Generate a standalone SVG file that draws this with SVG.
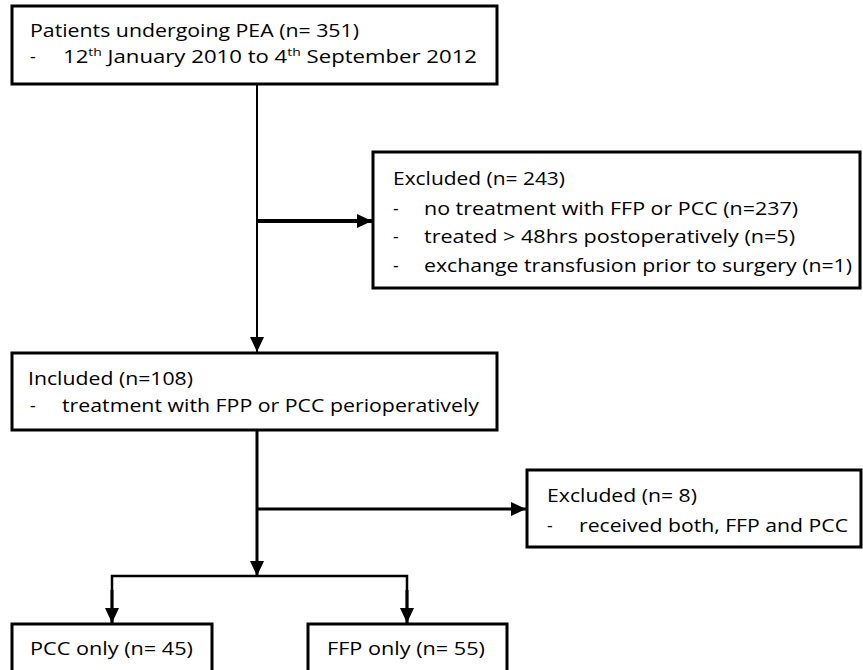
<svg xmlns="http://www.w3.org/2000/svg" width="863" height="670" viewBox="0 0 863 670">
  <defs>
    <style>
      .box { fill: #fff; stroke: #000; stroke-width: 3; }
      .t { font-family: "Open Sans", "Liberation Sans", Arial, sans-serif; font-size: 17.5px; fill: #000; }
      .sup { font-size: 11px; }
      .ln { stroke: #000; fill: none; }
    </style>
    <marker id="ah" markerUnits="userSpaceOnUse" markerWidth="15" markerHeight="14" refX="15" refY="7" orient="auto" viewBox="0 0 15 14">
      <path d="M0,0 L15,7 L0,14 Z" fill="#000"/>
    </marker>
  </defs>

  <g id="connectors">
    <line class="ln" x1="257" y1="85" x2="257" y2="352" stroke-width="2" marker-end="url(#ah)"/>
    <line class="ln" x1="257" y1="221" x2="372" y2="221" stroke-width="4" marker-end="url(#ah)"/>
    <line class="ln" x1="257" y1="430" x2="257" y2="576" stroke-width="3" marker-end="url(#ah)"/>
    <line class="ln" x1="257" y1="509" x2="526" y2="509" stroke-width="3" marker-end="url(#ah)"/>
    <polyline class="ln" points="112,623 112,576 407,576 407,623" stroke-width="2.5"/>
    <line class="ln" x1="112" y1="590" x2="112" y2="623" stroke-width="3" marker-end="url(#ah)"/>
    <line class="ln" x1="407" y1="590" x2="407" y2="623" stroke-width="3" marker-end="url(#ah)"/>
  </g>

  <g id="patients">
    <rect class="box" x="12" y="6" width="485" height="78"/>
    <text class="t" x="30" y="37" textLength="329" lengthAdjust="spacingAndGlyphs">Patients undergoing PEA (n= 351)</text>
    <text class="t" x="30" y="63">-</text>
    <text class="t" x="63" y="63" textLength="414" lengthAdjust="spacingAndGlyphs">12<tspan class="sup" dy="-7">th</tspan><tspan dy="7">  January 2010 to 4</tspan><tspan class="sup" dy="-7">th</tspan><tspan dy="7">  September 2012</tspan></text>
  </g>

  <g id="excluded1">
    <rect class="box" x="373" y="152" width="487" height="136"/>
    <text class="t" x="393" y="185" textLength="172" lengthAdjust="spacingAndGlyphs">Excluded (n= 243)</text>
    <text class="t" x="393" y="215">-</text>
    <text class="t" x="424" y="215" textLength="374" lengthAdjust="spacingAndGlyphs">no treatment with FFP or PCC (n=237)</text>
    <text class="t" x="393" y="243">-</text>
    <text class="t" x="424" y="243" textLength="371" lengthAdjust="spacingAndGlyphs">treated &gt; 48hrs postoperatively (n=5)</text>
    <text class="t" x="393" y="272">-</text>
    <text class="t" x="424" y="272" textLength="428" lengthAdjust="spacingAndGlyphs">exchange transfusion prior to surgery (n=1)</text>
  </g>

  <g id="included">
    <rect class="box" x="12" y="353" width="485" height="77"/>
    <text class="t" x="28" y="385" textLength="165" lengthAdjust="spacingAndGlyphs">Included (n=108)</text>
    <text class="t" x="30" y="412">-</text>
    <text class="t" x="62" y="412" textLength="417" lengthAdjust="spacingAndGlyphs">treatment with FPP or PCC perioperatively</text>
  </g>

  <g id="excluded2">
    <rect class="box" x="527" y="470" width="334" height="77"/>
    <text class="t" x="547" y="502" textLength="150" lengthAdjust="spacingAndGlyphs">Excluded (n= 8)</text>
    <text class="t" x="547" y="532">-</text>
    <text class="t" x="579" y="532" textLength="269" lengthAdjust="spacingAndGlyphs">received both, FFP and PCC</text>
  </g>

  <g id="pcc">
    <rect class="box" x="12" y="624" width="200" height="70"/>
    <text class="t" x="30" y="655" textLength="163" lengthAdjust="spacingAndGlyphs">PCC only (n= 45)</text>
  </g>

  <g id="ffp">
    <rect class="box" x="308" y="624" width="199" height="70"/>
    <text class="t" x="327" y="655" textLength="158" lengthAdjust="spacingAndGlyphs">FFP only (n= 55)</text>
  </g>
</svg>
